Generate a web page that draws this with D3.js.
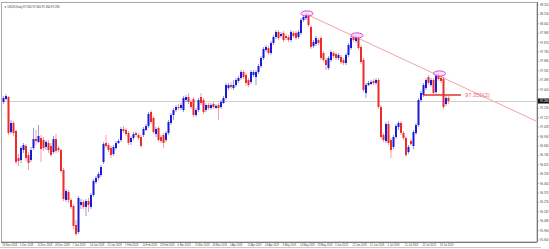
<!DOCTYPE html>
<html lang="en">
<head>
<meta charset="utf-8">
<title>USDX Daily candles</title>
<script src="https://cdn.jsdelivr.net/npm/d3@7"></script>
<style>
  body { margin: 0; background: #fff; }
  svg { display: block; font-family: "Liberation Sans", Arial, sans-serif; }
</style>
</head>
<body>
<script>
// daily bars
var open = [97.28,97.31,97.33,96.98,97.07,96.99,96.72,96.70,96.80,96.84,96.75,96.70,96.82,96.91,96.88,96.92,96.90,96.83,96.87,96.84,
  96.78,96.91,96.82,96.80,96.60,96.30,96.38,96.30,96.24,96.05,95.98,96.25,96.28,96.23,96.29,96.23,96.35,96.48,96.52,96.55,
  96.68,96.87,96.85,96.82,96.76,96.82,96.87,96.90,97.01,97.00,96.97,96.88,96.92,96.97,96.95,96.93,96.95,97.00,97.04,97.18,
  97.12,96.96,97.02,96.93,96.95,96.90,96.97,97.07,97.15,97.20,97.23,97.22,97.20,97.30,97.33,97.28,97.31,97.15,97.20,97.33,
  97.30,97.20,97.25,97.22,97.26,97.22,97.25,97.23,97.27,97.32,97.42,97.45,97.42,97.45,97.49,97.52,97.58,97.55,97.50,97.48,
  97.55,97.53,97.58,97.64,97.72,97.80,97.82,97.77,97.87,97.93,97.98,97.94,97.97,97.94,97.93,97.90,97.97,97.97,97.93,97.97,
  98.10,98.12,98.14,98.03,97.84,97.86,97.90,97.92,97.77,97.70,97.62,97.70,97.77,97.76,97.72,97.73,97.70,97.67,97.75,97.82,
  97.93,97.89,97.92,97.83,97.70,97.37,97.45,97.46,97.49,97.47,97.50,97.23,96.95,96.89,97.06,96.90,96.83,96.93,97.03,97.07,
  96.97,96.92,96.78,96.89,96.84,96.97,97.05,97.30,97.35,97.42,97.53,97.45,97.50,97.38,97.54,97.52,97.51,97.26,97.32];
var high = [97.34,97.36,97.34,97.10,97.09,97.00,96.76,96.84,96.87,96.86,96.78,96.83,97.02,97.00,97.05,96.95,96.93,96.90,96.90,96.87,
  96.94,96.96,96.84,96.81,96.62,96.41,96.40,96.32,96.26,96.10,96.34,96.31,96.30,96.31,96.32,96.37,96.51,96.54,96.58,96.65,
  96.88,96.95,96.87,96.84,96.85,96.89,96.91,97.03,97.04,97.02,96.99,96.94,96.98,96.99,96.97,96.95,97.03,97.06,97.18,97.20,
  97.14,97.03,97.04,96.95,96.97,96.99,97.10,97.17,97.22,97.25,97.26,97.27,97.34,97.35,97.37,97.30,97.33,97.22,97.32,97.37,
  97.32,97.27,97.27,97.27,97.28,97.26,97.27,97.30,97.34,97.47,97.47,97.48,97.50,97.52,97.54,97.60,97.60,97.57,97.52,97.60,
  97.60,97.60,97.66,97.74,97.83,97.85,97.84,97.89,97.95,98.00,98.00,97.98,97.99,97.96,97.95,98.00,97.99,97.99,98.00,98.12,
  98.15,98.17,98.16,98.05,97.90,97.94,97.92,97.94,97.79,97.72,97.74,97.80,97.79,97.78,97.77,97.75,97.72,97.77,97.87,97.94,
  97.95,97.95,97.94,97.85,97.72,97.47,97.49,97.50,97.51,97.52,97.52,97.25,96.97,97.08,97.09,96.92,96.95,97.06,97.09,97.09,
  96.99,96.94,96.85,96.91,97.00,97.07,97.32,97.39,97.47,97.52,97.55,97.52,97.52,97.56,97.57,97.54,97.53,97.34,97.34];
var low = [97.26,97.30,96.95,96.96,96.94,96.66,96.64,96.67,96.77,96.69,96.60,96.68,96.80,96.85,96.87,96.68,96.79,96.80,96.77,96.73,
  96.76,96.77,96.78,96.57,96.29,96.28,96.27,96.21,96.01,95.94,95.96,96.21,96.21,96.14,96.18,96.21,96.33,96.46,96.50,96.53,
  96.66,96.82,96.78,96.72,96.74,96.80,96.86,96.88,96.97,96.94,96.85,96.85,96.90,96.93,96.90,96.82,96.93,96.99,97.02,97.06,
  96.96,96.93,96.88,96.87,96.82,96.88,96.95,97.05,97.10,97.18,97.20,97.20,97.18,97.28,97.26,97.21,97.13,97.13,97.18,97.25,
  97.16,97.18,97.20,97.20,97.21,97.21,97.10,97.21,97.26,97.30,97.40,97.41,97.40,97.43,97.47,97.50,97.51,97.44,97.43,97.46,
  97.53,97.45,97.56,97.62,97.70,97.78,97.75,97.75,97.85,97.91,97.90,97.92,97.88,97.90,97.88,97.88,97.92,97.90,97.91,97.95,
  98.08,98.10,98.03,97.81,97.82,97.84,97.85,97.70,97.68,97.60,97.60,97.68,97.72,97.70,97.70,97.66,97.65,97.65,97.73,97.80,
  97.88,97.87,97.80,97.66,97.38,97.32,97.44,97.45,97.45,97.45,97.21,96.91,96.88,96.87,96.85,96.72,96.81,96.91,97.00,96.95,
  96.90,96.73,96.76,96.84,96.81,96.95,97.03,97.28,97.33,97.40,97.45,97.43,97.35,97.36,97.49,97.47,97.21,97.24,97.26];
var close = [97.32,97.34,96.97,97.07,96.97,96.68,96.69,96.82,96.85,96.72,96.67,96.80,96.91,96.89,96.94,96.81,96.82,96.88,96.80,96.75,
  96.91,96.79,96.80,96.59,96.31,96.39,96.30,96.23,96.04,95.96,96.32,96.28,96.23,96.29,96.25,96.35,96.49,96.52,96.56,96.63,
  96.86,96.84,96.80,96.75,96.83,96.87,96.89,97.01,96.99,96.96,96.87,96.92,96.96,96.95,96.92,96.84,97.01,97.04,97.16,97.08,
  96.98,97.01,96.90,96.89,96.87,96.97,97.08,97.15,97.20,97.23,97.22,97.25,97.32,97.33,97.28,97.23,97.15,97.20,97.30,97.27,
  97.18,97.25,97.22,97.25,97.23,97.24,97.22,97.28,97.32,97.45,97.45,97.43,97.45,97.50,97.52,97.58,97.53,97.47,97.45,97.58,
  97.58,97.58,97.64,97.72,97.81,97.83,97.77,97.87,97.93,97.98,97.92,97.96,97.90,97.92,97.90,97.98,97.94,97.92,97.98,98.10,
  98.13,98.15,98.05,97.83,97.88,97.92,97.87,97.72,97.70,97.65,97.72,97.78,97.74,97.72,97.75,97.68,97.67,97.75,97.85,97.92,
  97.90,97.93,97.82,97.68,97.40,97.45,97.47,97.48,97.47,97.50,97.23,96.93,96.90,97.06,96.87,96.80,96.93,97.04,97.07,96.97,
  96.92,96.75,96.83,96.86,96.98,97.05,97.30,97.37,97.45,97.50,97.47,97.50,97.37,97.54,97.51,97.49,97.23,97.32,97.29];

// price scale labels
var priceTicks = [98.250,98.156,98.062,97.968,97.874,97.780,97.686,97.592,97.498,97.404,97.310,97.216,97.122,
  97.028,96.934,96.840,96.746,96.652,96.558,96.464,96.370,96.276,96.182,96.088,95.994,95.900];
// time scale labels, one every 7 bars
var dateLabels = ["26 Nov 2018","5 Dec 2018","14 Dec 2018","26 Dec 2018","7 Jan 2019","16 Jan 2019","25 Jan 2019",
  "5 Feb 2019","14 Feb 2019","25 Feb 2019","6 Mar 2019","15 Mar 2019","26 Mar 2019","4 Apr 2019","15 Apr 2019",
  "24 Apr 2019","3 May 2019","14 May 2019","23 May 2019","3 Jun 2019","12 Jun 2019","21 Jun 2019","2 Jul 2019",
  "11 Jul 2019","22 Jul 2019","31 Jul 2019"];
var dateStep = 7;

// drawn objects: peaks, trend line, level
var peakBars = [121, 141, 174];
var trendFrom = [121, 98.16];
var trendTo = [213, 97.09];
var levelPrice = 97.35, levelFrom = 168, levelTo = 183;
var levelText = "97.350(2)";
var title = "USDX,Daily  97.320 97.340 97.260 97.290";

var w = 549, h = 249;
var plotR = 537, plotB = 242;
var n = close.length;

var x = d3.scaleLinear().domain([0, n - 1]).range([3.5, 3.5 + 2.5 * (n - 1)]);
var y = d3.scaleLinear().domain([95.9, 98.25]).range([240, 5]);

var bull = "#1b1bd6", bear = "#ec2b2b";

var svg = d3.select("body").append("svg")
  .attr("width", w)
  .attr("height", h);

// frame
svg.append("rect").attr("x", 1.5).attr("y", 2.5).attr("width", plotR - 1.5).attr("height", plotB - 2.5)
  .attr("fill", "none").attr("stroke", "#a8a8a8");
svg.append("line").attr("x1", 0).attr("x2", plotR + 4).attr("y1", 247.5).attr("y2", 247.5)
  .attr("stroke", "#c8c8c8");

// last price line
var last = close[n - 1];
svg.append("line")
  .attr("x1", 2).attr("x2", plotR)
  .attr("y1", Math.round(y(last)) + 0.5).attr("y2", Math.round(y(last)) + 0.5)
  .attr("stroke", "#cfcfcf");

// trend line, clipped to plot
svg.append("clipPath").attr("id", "plot").append("rect")
  .attr("x", 2).attr("y", 3).attr("width", plotR - 2).attr("height", plotB - 3);
svg.append("line")
  .attr("clip-path", "url(#plot)")
  .attr("x1", x(trendFrom[0])).attr("y1", y(trendFrom[1]))
  .attr("x2", x(trendTo[0])).attr("y2", y(trendTo[1]))
  .attr("stroke", "#f2a3a3").attr("stroke-width", 1);

// candles
var bars = d3.range(n);
svg.selectAll("line.wick")
  .data(bars)
  .enter()
  .append("line")
  .attr("class", "wick")
  .attr("x1", function(i) { return x(i); })
  .attr("x2", function(i) { return x(i); })
  .attr("y1", function(i) { return y(high[i]); })
  .attr("y2", function(i) { return y(low[i]); })
  .attr("stroke", function(i) { return close[i] >= open[i] ? bull : bear; })
  .attr("stroke-opacity", 0.45)
  .attr("stroke-width", 1);

svg.selectAll("rect.body")
  .data(bars)
  .enter()
  .append("rect")
  .attr("class", "body")
  .attr("x", function(i) { return x(i) - 1; })
  .attr("width", 2)
  .attr("y", function(i) { return y(Math.max(open[i], close[i])); })
  .attr("height", function(i) { return Math.max(1, Math.abs(y(open[i]) - y(close[i]))); })
  .attr("fill", function(i) { return close[i] >= open[i] ? bull : bear; });

// level line and its label
svg.append("line")
  .attr("x1", x(levelFrom)).attr("x2", x(levelTo))
  .attr("y1", y(levelPrice)).attr("y2", y(levelPrice))
  .attr("stroke", "#e42f2f").attr("stroke-width", 1.6);
svg.append("text")
  .attr("x", x(levelTo) + 4).attr("y", y(levelPrice) + 2)
  .attr("font-size", "5.8px")
  .attr("fill", "#f06a6a")
  .text(levelText);

// peak marks
svg.selectAll("ellipse")
  .data(peakBars)
  .enter()
  .append("ellipse")
  .attr("cx", function(i) { return x(i) + 1; })
  .attr("cy", function(i) { return y(high[i]) + 0.5; })
  .attr("rx", 6)
  .attr("ry", 2.6)
  .attr("fill", "#f7d0f2")
  .attr("fill-opacity", 0.5)
  .attr("stroke", "#dd3fcf")
  .attr("stroke-width", 1);

// right price axis
var yAxis = svg.append("g").attr("transform", "translate(" + plotR + ",0)");
yAxis.append("line").attr("x1", 0.5).attr("x2", 0.5).attr("y1", 2).attr("y2", plotB)
  .attr("stroke", "#777");
yAxis.selectAll("text")
  .data(priceTicks.filter(function(p) { return Math.abs(y(p) - y(last)) > 4; }))
  .enter()
  .append("text")
  .attr("x", 3)
  .attr("y", function(p) { return y(p) + 1; })
  .attr("font-size", "2.8px")
  .attr("fill", "#444")
  .text(function(p) { return p.toFixed(3); });
yAxis.selectAll("line.tick")
  .data(priceTicks)
  .enter()
  .append("line")
  .attr("class", "tick")
  .attr("x1", 0).attr("x2", 2)
  .attr("y1", function(p) { return y(p); })
  .attr("y2", function(p) { return y(p); })
  .attr("stroke", "#777").attr("stroke-width", 0.5);
yAxis.append("rect")
  .attr("x", 1).attr("y", y(last) - 2.5).attr("width", 12).attr("height", 5)
  .attr("fill", "#111");
yAxis.append("text")
  .attr("x", 3).attr("y", y(last) + 1)
  .attr("font-size", "2.8px")
  .attr("fill", "#fff")
  .text(last.toFixed(3));

// bottom time axis
svg.append("line").attr("x1", 1).attr("x2", plotR).attr("y1", plotB + 0.5).attr("y2", plotB + 0.5)
  .attr("stroke", "#777");
svg.selectAll("text.date")
  .data(dateLabels)
  .enter()
  .append("text")
  .attr("class", "date")
  .attr("x", function(d, k) { return x(k * dateStep) - 1; })
  .attr("y", 246)
  .attr("font-size", "2.6px")
  .attr("fill", "#444")
  .text(function(d) { return d; });

// title
svg.append("text")
  .attr("x", 4).attr("y", 8)
  .attr("font-size", "2.8px")
  .attr("fill", "#333")
  .text("\u25BC " + title);
</script>
</body>
</html>
